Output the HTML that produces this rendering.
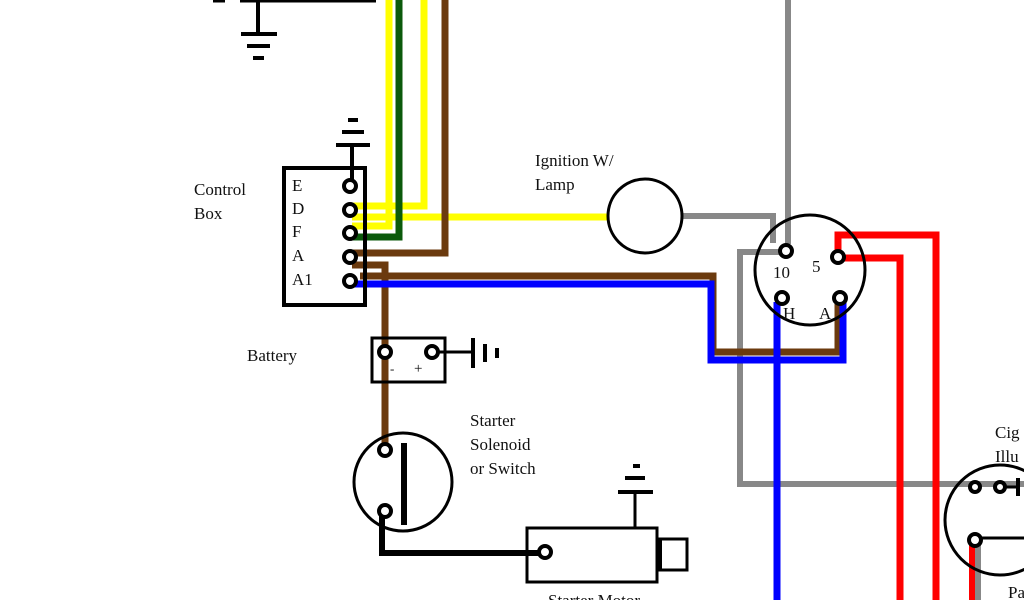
<!DOCTYPE html>
<html><head><meta charset="utf-8"><style>
html,body{margin:0;padding:0;background:#fff;width:1024px;height:600px;overflow:hidden}
text{font-family:"Liberation Serif",serif;font-size:17px;fill:#111}
</style></head><body>
<svg width="1024" height="600" viewBox="0 0 1024 600" xmlns="http://www.w3.org/2000/svg">
<g fill="none" stroke-linejoin="miter">
<!-- top-left ground -->
<line x1="213" y1="0" x2="225" y2="0" stroke="#000" stroke-width="5"/>
<line x1="240" y1="0" x2="376" y2="0" stroke="#000" stroke-width="5"/>
<line x1="258" y1="0" x2="258" y2="33" stroke="#000" stroke-width="4"/>
<line x1="241" y1="34" x2="277" y2="34" stroke="#000" stroke-width="4"/>
<line x1="247" y1="46" x2="270" y2="46" stroke="#000" stroke-width="4"/>
<line x1="253" y1="58" x2="264" y2="58" stroke="#000" stroke-width="4"/>

<!-- gray wires -->
<polyline points="682,216 773,216 773,243" stroke="#888" stroke-width="6"/>
<line x1="788" y1="0" x2="788" y2="244" stroke="#888" stroke-width="6"/>
<polyline points="784,252 740,252 740,484 1024,484" stroke="#888" stroke-width="6"/>
<line x1="978" y1="540" x2="978" y2="600" stroke="#888" stroke-width="6"/>

<!-- yellow / green -->
<polyline points="350,206 424,206 424,0" stroke="#ffff00" stroke-width="7"/>
<polyline points="352,226 389,226 389,0" stroke="#ffff00" stroke-width="7"/>
<line x1="352" y1="217" x2="610" y2="217" stroke="#ffff00" stroke-width="7"/>
<polyline points="352,237 399,237 399,0" stroke="#0b5a0b" stroke-width="7"/>

<!-- brown -->
<polyline points="352,253 445,253 445,0" stroke="#6b3a0e" stroke-width="7"/>
<polyline points="352,265 385,265 385,446" stroke="#6b3a0e" stroke-width="7"/>
<polyline points="360,276 713,276 713,352 838,352 838,304" stroke="#6b3a0e" stroke-width="7"/>
<!-- blue -->
<polyline points="352,284 711,284 711,360 843,360 843,302" stroke="#0000ff" stroke-width="7"/>
<line x1="777" y1="302" x2="777" y2="600" stroke="#0000ff" stroke-width="7"/>
<!-- red -->
<polyline points="838,256 838,235 936,235 936,600" stroke="#ff0000" stroke-width="7"/>
<polyline points="844,258 900,258 900,600" stroke="#ff0000" stroke-width="7"/>
<line x1="972" y1="540" x2="972" y2="600" stroke="#ff0000" stroke-width="6"/>

<!-- control box -->
<rect x="284" y="168" width="81" height="137" stroke="#000" stroke-width="4"/>
<line x1="352" y1="145" x2="352" y2="182" stroke="#000" stroke-width="4"/>
<line x1="336" y1="145" x2="370" y2="145" stroke="#000" stroke-width="4"/>
<line x1="342" y1="132" x2="364" y2="132" stroke="#000" stroke-width="4"/>
<line x1="348" y1="120" x2="358" y2="120" stroke="#000" stroke-width="4"/>
<g stroke="#000" stroke-width="4" fill="#fff">
<circle cx="350" cy="186" r="6"/><circle cx="350" cy="210" r="6"/><circle cx="350" cy="233" r="6"/><circle cx="350" cy="257" r="6"/><circle cx="350" cy="281" r="6"/>
</g>

<!-- lamp -->
<circle cx="645" cy="216" r="37" stroke="#000" stroke-width="3" fill="#fff"/>

<!-- ignition switch -->
<circle cx="810" cy="270" r="55" stroke="#000" stroke-width="3"/>
<g stroke="#000" stroke-width="4" fill="#fff">
<circle cx="786" cy="251" r="6"/><circle cx="838" cy="257" r="6"/><circle cx="782" cy="298" r="6"/><circle cx="840" cy="298" r="6"/>
</g>

<!-- cig lighter -->
<circle cx="1000" cy="520" r="55" stroke="#000" stroke-width="3"/>
<g stroke="#000" stroke-width="4" fill="#fff">
<circle cx="975" cy="487" r="5"/><circle cx="1000" cy="487" r="5"/><circle cx="975" cy="540" r="6"/>
</g>
<line x1="1005" y1="487" x2="1018" y2="487" stroke="#000" stroke-width="3"/>
<line x1="1018" y1="478" x2="1018" y2="496" stroke="#000" stroke-width="4"/>
<line x1="981" y1="538" x2="1024" y2="538" stroke="#000" stroke-width="3"/>

<!-- battery -->
<rect x="372" y="338" width="73" height="44" stroke="#000" stroke-width="3"/>
<line x1="438" y1="352" x2="472" y2="352" stroke="#000" stroke-width="3"/>
<line x1="473" y1="338" x2="473" y2="368" stroke="#000" stroke-width="4"/>
<line x1="485" y1="344" x2="485" y2="362" stroke="#000" stroke-width="4"/>
<line x1="497" y1="348" x2="497" y2="358" stroke="#000" stroke-width="4"/>
<g stroke="#000" stroke-width="4" fill="#fff"><circle cx="385" cy="352" r="6"/><circle cx="432" cy="352" r="6"/></g>

<!-- solenoid -->
<circle cx="403" cy="482" r="49" stroke="#000" stroke-width="3"/>
<line x1="404" y1="443" x2="404" y2="525" stroke="#000" stroke-width="6"/>
<polyline points="382,515 382,553 545,553" stroke="#000" stroke-width="6"/>
<g stroke="#000" stroke-width="4" fill="#fff"><circle cx="385" cy="450" r="6"/><circle cx="385" cy="511" r="6"/></g>

<!-- starter motor -->
<rect x="527" y="528" width="130" height="54" stroke="#000" stroke-width="3"/>
<rect x="660" y="539" width="27" height="31" stroke="#000" stroke-width="3"/>
<line x1="659" y1="539" x2="659" y2="570" stroke="#000" stroke-width="6"/>
<line x1="635" y1="492" x2="635" y2="528" stroke="#000" stroke-width="3"/>
<line x1="618" y1="492" x2="653" y2="492" stroke="#000" stroke-width="4"/>
<line x1="625" y1="478" x2="645" y2="478" stroke="#000" stroke-width="4"/>
<line x1="633" y1="466" x2="640" y2="466" stroke="#000" stroke-width="4"/>
<circle cx="545" cy="552" r="6" stroke="#000" stroke-width="4" fill="#fff"/>
</g>

<text x="194" y="195">Control</text>
<text x="194" y="219">Box</text>
<text x="292" y="191">E</text>
<text x="292" y="214">D</text>
<text x="292" y="237">F</text>
<text x="292" y="261">A</text>
<text x="292" y="285">A1</text>
<text x="535" y="166">Ignition W/</text>
<text x="535" y="190">Lamp</text>
<text x="773" y="278">10</text>
<text x="812" y="272">5</text>
<text x="783" y="319">H</text>
<text x="819" y="319">A</text>
<text x="247" y="361">Battery</text>
<text x="390" y="373" style="font-size:13px">-</text>
<text x="414" y="373" style="font-size:15px">+</text>
<text x="470" y="426">Starter</text>
<text x="470" y="450">Solenoid</text>
<text x="470" y="474">or Switch</text>
<text x="548" y="606">Starter Motor</text>
<text x="995" y="438">Cig</text>
<text x="995" y="462">Illu</text>
<text x="1008" y="598">Pa</text>
</svg>
</body></html>
